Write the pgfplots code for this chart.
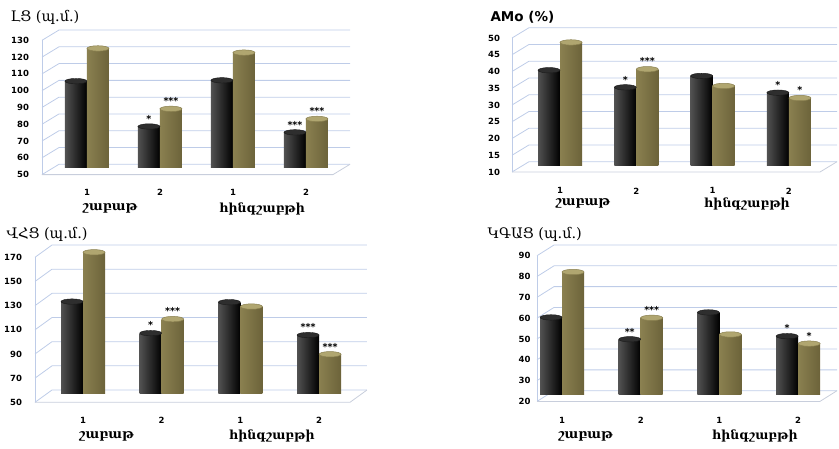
\documentclass[border=0pt]{standalone}
\usepackage{fontspec}
\usepackage{pgfplots}
\pgfplotsset{compat=1.18}
\setmainfont{DejaVu Serif}
\newfontfamily\tickfont{DejaVu Sans}
\definecolor{gridc}{RGB}{190,204,232}
\definecolor{floorc}{RGB}{200,206,220}
\definecolor{goldL}{RGB}{138,128,80}
\definecolor{goldM}{RGB}{204,195,146}
\definecolor{goldR}{RGB}{108,99,58}
\definecolor{goldT}{RGB}{176,166,112}
\pgfdeclareplotmark{cylL}{\pgfpathellipse{\pgfqpoint{-11pt}{0pt}}{\pgfqpoint{11pt}{0pt}}{\pgfqpoint{0pt}{2.7pt}}\pgfusepathqfillstroke}
\pgfdeclareplotmark{cylR}{\pgfpathellipse{\pgfqpoint{11pt}{0pt}}{\pgfqpoint{11pt}{0pt}}{\pgfqpoint{0pt}{2.7pt}}\pgfusepathqfillstroke}
\pgfplotsset{
  panel/.style={
    scale only axis, anchor=south west,
    ybar=0pt, bar width=22pt,
    axis line style={draw=none}, major tick length=0pt,
    xtick={0,1,2,3}, xticklabels={1,2,1,2},
    tick label style={font=\tickfont\bfseries\fontsize{8.5}{10}\selectfont},
    /pgf/number format/assume math mode=true,
    clip=false,
    nodes near coords, point meta=explicit symbolic,
    nodes near coords style={font=\tickfont\bfseries\fontsize{9.5}{9}\selectfont, inner sep=1pt, yshift=3pt},
  },
  blackbar/.style={draw=none, left color=black!68, middle color=black!95, right color=black,
    bar shift=-11pt, mark=cylL, mark options={draw=black!90, line width=0.4pt, fill=black!82}},
  goldbar/.style={draw=none, left color=goldL, middle color=goldM, right color=goldR,
    bar shift=11pt, mark=cylR, mark options={draw=goldL, line width=0.5pt, fill=goldT}},
}
\newcommand{\bb}[3]{\addplot[blackbar] coordinates {(#1,#2) [#3]};}
\newcommand{\gb}[3]{\addplot[goldbar] coordinates {(#1,#2) [#3]};}
% decorative 3D walls: #1 xmin, #2 xmax, #3 ticks, #4 ymin, #5 ymax, #6 front drop, #7 back rise
\newcommand{\walls}[7]{%
  \pgfplotsinvokeforeach{#3}{\draw[gridc, line width=0.8pt] ([yshift=-#6]axis cs:#1,##1) -- ([xshift=17pt,yshift=#7]axis cs:#1,##1) -- ([yshift=#7]axis cs:#2,##1);}
  \draw[gridc, line width=0.8pt] ([yshift=-#6]axis cs:#1,#4) -- ([yshift=-#6]axis cs:#1,#5);
  \draw[floorc, line width=0.8pt] ([yshift=-#6]axis cs:#1,#4) -- ([xshift=-17pt,yshift=-#6]axis cs:#2,#4) -- ([yshift=#7]axis cs:#2,#4);}
\newcommand{\grpa}{\fontsize{13}{15}\selectfont\bfseries}
\newcommand{\grpb}{\fontsize{12.5}{15}\selectfont\bfseries}
\begin{document}
\begin{tikzpicture}
\path[use as bounding box] (0,0) rectangle (839pt,448pt);
% titles
\node[anchor=west, font=\fontsize{14.5}{16}\selectfont] at (7pt,431pt) {ԼՑ (պ.մ.)};
\node[anchor=west, font=\tickfont\bfseries\fontsize{13.5}{15}\selectfont] at (487pt,431pt) {AMo (\%)};
\node[anchor=west, font=\fontsize{14.5}{16}\selectfont] at (3pt,214pt) {ՎՀՑ (պ.մ.)};
\node[anchor=west, font=\fontsize{14.5}{16}\selectfont] at (484pt,214pt) {ԿԳԱՑ (պ.մ.)};

% panel 1
\begin{axis}[panel, at={(42pt,280.4pt)}, width=308pt, height=134.3pt,
  xmin=-0.616, xmax=3.603, ymin=50, ymax=130, ytick={50,60,...,130},
  y tick label style={xshift=-9.5pt, yshift=-7pt}, x tick label style={yshift=-18.5pt}]
\walls{-0.616}{3.603}{50,60,...,130}{50}{130}{7pt}{3.3pt}
\bb{0}{101.5}{} \bb{1}{74.5}{*} \bb{2}{102}{} \bb{3}{71}{***}
\gb{0}{121}{} \gb{1}{85}{***} \gb{2}{118.5}{} \gb{3}{79}{***}
\node[font=\grpa] at (axis cs:0.315,50) [yshift=-41pt] {շաբաթ};
\node[font=\grpb] at (axis cs:2.4,50) [yshift=-41pt] {հինգշաբթի};
\end{axis}

% panel 2
\begin{axis}[panel, at={(512pt,282.3pt)}, width=325pt, height=134pt,
  xmin=-0.629, xmax=3.63, ymin=10, ymax=50, ytick={10,15,...,50},
  y tick label style={xshift=-8.5pt, yshift=-6.3pt}, x tick label style={yshift=-18.5pt}]
\walls{-0.629}{3.63}{10,15,...,50}{10}{50}{6.3pt}{4pt}
\bb{0}{38.5}{} \bb{1}{33.4}{*} \bb{2}{36.8}{} \bb{3}{31.8}{*}
\gb{0}{46.8}{} \gb{1}{38.8}{***} \gb{2}{33.8}{} \gb{3}{30.2}{*}
\node[font=\grpa] at (axis cs:0.3,10) [yshift=-38pt] {շաբաթ};
\node[font=\grpb] at (axis cs:2.45,10) [yshift=-38pt] {հինգշաբթի};
\end{axis}

% panel 3
\begin{axis}[panel, at={(35pt,54.7pt)}, width=332pt, height=145pt,
  xmin=-0.61, xmax=3.609, ymin=50, ymax=170, ytick={50,70,...,170},
  y tick label style={xshift=-9.5pt, yshift=-9pt}, x tick label style={yshift=-20pt}]
\walls{-0.61}{3.609}{50,70,...,170}{50}{170}{9pt}{3.3pt}
\bb{0}{125.9}{} \bb{1}{99.8}{*} \bb{2}{125.4}{} \bb{3}{98.2}{***}
\gb{0}{166.7}{} \gb{1}{111.4}{***} \gb{2}{121.8}{} \gb{3}{82.3}{***}
\node[font=\grpa] at (axis cs:0.3,50) [yshift=-43pt] {շաբաթ};
\node[font=\grpb] at (axis cs:2.4,50) [yshift=-43pt] {հինգշաբթի};
\end{axis}

% panel 4
\begin{axis}[panel, at={(537pt,53.6pt)}, width=300pt, height=145.7pt,
  xmin=-0.318, xmax=3.494, ymin=20, ymax=90, ytick={20,30,...,90},
  y tick label style={xshift=-3pt, yshift=-7pt}, x tick label style={yshift=-19pt}]
\walls{-0.318}{3.494}{20,30,...,90}{20}{90}{7pt}{3.7pt}
\bb{0}{57}{} \bb{1}{46.5}{**} \bb{2}{59.4}{} \bb{3}{48}{*}
\gb{0}{78.8}{} \gb{1}{56.8}{***} \gb{2}{48.8}{} \gb{3}{44.4}{*}
\node[font=\grpa] at (axis cs:0.3,20) [yshift=-42pt] {շաբաթ};
\node[font=\grpb] at (axis cs:2.45,20) [yshift=-42pt] {հինգշաբթի};
\end{axis}
\end{tikzpicture}
\end{document}
